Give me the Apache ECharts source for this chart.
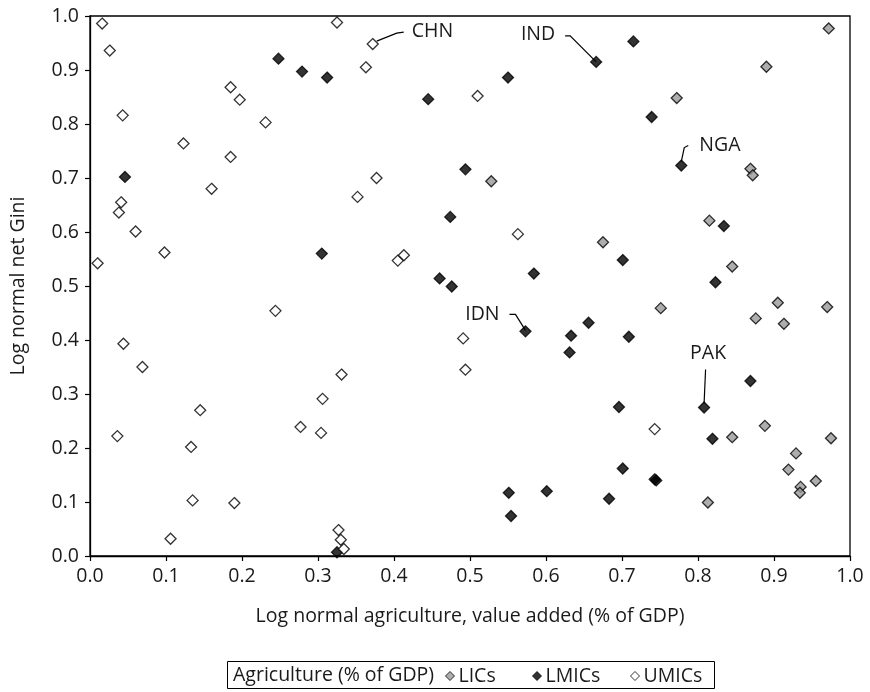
<!DOCTYPE html>
<html>
<head>
<meta charset="utf-8">
<script src="https://cdn.jsdelivr.net/npm/echarts@6/dist/echarts.min.js"></script>
<style>html,body{margin:0;padding:0;background:#fff}#c{width:870px;height:692px}</style>
</head>
<body>
<div id="c"></div>
<script>
// ---- data ----
const seriesNames = ['LICs', 'LMICs', 'UMICs'];
const lics = [[0.972,0.977],[0.890,0.906],[0.772,0.848],[0.869,0.717],[0.872,0.705],[0.815,0.621],[0.675,0.581],[0.845,0.536],[0.528,0.694],[0.751,0.459],[0.905,0.469],[0.970,0.461],[0.876,0.440],[0.913,0.430],[0.888,0.241],[0.845,0.220],[0.975,0.218],[0.929,0.190],[0.919,0.160],[0.955,0.139],[0.935,0.128],[0.934,0.117],[0.813,0.099]];
const lmics = [[0.046,0.702],[0.248,0.921],[0.279,0.897],[0.312,0.886],[0.445,0.846],[0.550,0.886],[0.666,0.915],[0.715,0.953],[0.739,0.813],[0.778,0.723],[0.494,0.716],[0.474,0.628],[0.305,0.560],[0.460,0.514],[0.476,0.499],[0.584,0.523],[0.834,0.611],[0.701,0.548],[0.823,0.507],[0.573,0.416],[0.633,0.408],[0.631,0.377],[0.656,0.432],[0.709,0.406],[0.869,0.324],[0.808,0.275],[0.696,0.276],[0.819,0.217],[0.701,0.162],[0.745,0.140],[0.743,0.142],[0.683,0.106],[0.551,0.117],[0.601,0.120],[0.554,0.074],[0.325,0.007]];
const umics = [[0.016,0.986],[0.026,0.936],[0.043,0.816],[0.041,0.655],[0.038,0.636],[0.060,0.601],[0.010,0.542],[0.123,0.764],[0.098,0.562],[0.185,0.868],[0.197,0.845],[0.231,0.803],[0.185,0.739],[0.160,0.680],[0.325,0.988],[0.372,0.948],[0.363,0.905],[0.510,0.852],[0.377,0.700],[0.352,0.665],[0.563,0.596],[0.405,0.547],[0.413,0.557],[0.244,0.454],[0.044,0.393],[0.069,0.350],[0.145,0.270],[0.036,0.222],[0.133,0.202],[0.135,0.103],[0.190,0.098],[0.106,0.032],[0.491,0.403],[0.494,0.345],[0.331,0.336],[0.306,0.291],[0.277,0.239],[0.304,0.228],[0.327,0.048],[0.330,0.030],[0.334,0.013],[0.743,0.235]];
const annotNames = ['CHN', 'IND', 'NGA', 'IDN', 'PAK'];
const annotPoints = [[0.372,0.948],[0.666,0.915],[0.778,0.723],[0.573,0.416],[0.808,0.275]];
const xTicks = [0.0,0.1,0.2,0.3,0.4,0.5,0.6,0.7,0.8,0.9,1.0];
const yTicks = [0.0,0.1,0.2,0.3,0.4,0.5,0.6,0.7,0.8,0.9,1.0];

// ---- styles ----
const FONT = '"Open Sans", "Noto Sans", sans-serif';
const FS = 19.5;
const TXT = '#1a1a1a';
const legendLefts = [445, 532, 630];
// leader line shapes relative to the point
const annotStyle = {
  CHN: {pts: [[4,-3],[24,-11],[31,-12]], tx: 39, ty: -13, align: 'left'},
  IND: {pts: [[-31,-26],[-26,-26],[0,0]], tx: -41, ty: -27, align: 'right'},
  NGA: {pts: [[0,-4],[3,-18],[7,-20]], tx: 18, ty: -20, align: 'left'},
  IDN: {pts: [[-16,-17],[-10,-17],[0,-1]], tx: -26, ty: -17, align: 'right'},
  PAK: {pts: [[1.5,-38],[0,-4]], tx: 4, ty: -54, align: 'center'}
};

const chart = echarts.init(document.getElementById('c'), null, {renderer: 'canvas'});
const axisCommon = {
  min: 0, max: 1, interval: 0.1,
  axisLine: {show: true, onZero: false, lineStyle: {color: '#000', width: 1.3}},
  axisTick: {show: true, length: 5, lineStyle: {color: '#000', width: 1.2}},
  splitLine: {show: false},
  axisLabel: {color: TXT, fontFamily: FONT, fontSize: FS, formatter: v => v.toFixed(1)},
  nameTextStyle: {color: TXT, fontFamily: FONT, fontSize: FS},
  nameLocation: 'middle'
};
function mk(name, data, color, z) {
  return {
    name, type: 'scatter', data, symbol: 'diamond', symbolSize: 11, z,
    itemStyle: {color, borderColor: '#000', borderWidth: 1.3},
    emphasis: {disabled: true}
  };
}
chart.setOption({
  animation: false,
  backgroundColor: '#fff',
  grid: {left: 84, right: 20, top: 16, bottom: 136, show: true, borderColor: '#000', borderWidth: 1.3, backgroundColor: 'transparent'},
  xAxis: Object.assign({}, axisCommon, {type: 'value', name: 'Log normal agriculture, value added (% of GDP)', nameGap: 50,
    axisLabel: Object.assign({}, axisCommon.axisLabel, {margin: 10})}),
  yAxis: Object.assign({}, axisCommon, {type: 'value', name: 'Log normal net Gini', nameGap: 62,
    axisLabel: Object.assign({}, axisCommon.axisLabel, {margin: 11})}),
  legend: seriesNames.map((n, i) => ({
    data: [n], left: legendLefts[i], top: 663, padding: 0, icon: 'diamond', itemWidth: 9, itemHeight: 9,
    textStyle: {color: TXT, fontFamily: FONT, fontSize: FS, padding: [0,0,0,-1], lineHeight: 26},
    itemStyle: {borderColor: '#000', borderWidth: 1}
  })),
  series: [mk(seriesNames[0], lics, '#999999', 2), mk(seriesNames[1], lmics, '#000000', 3), mk(seriesNames[2], umics, '#ffffff', 4)]
});

// annotations + legend box, positioned via the chart's own scales
const g = [];
annotNames.forEach((n, i) => {
  const p = chart.convertToPixel({gridIndex: 0}, annotPoints[i]);
  const s = annotStyle[n];
  g.push({type: 'polyline', z: 10, shape: {points: s.pts.map(q => [p[0] + q[0], p[1] + q[1]])}, style: {stroke: '#000', lineWidth: 1.2, fill: null}});
  g.push({type: 'text', z: 10, x: p[0] + s.tx, y: p[1] + s.ty, style: {text: n, fill: TXT, font: FS + 'px ' + FONT, align: s.align, verticalAlign: 'middle'}});
});
g.push({type: 'rect', shape: {x: 227.5, y: 661.5, width: 487, height: 27}, style: {fill: null, stroke: '#000', lineWidth: 1}});
g.push({type: 'text', x: 233, y: 675.5, style: {text: 'Agriculture (% of GDP)', fill: TXT, font: FS + 'px ' + FONT, verticalAlign: 'middle'}});
chart.setOption({graphic: g});
</script>
</body>
</html>
